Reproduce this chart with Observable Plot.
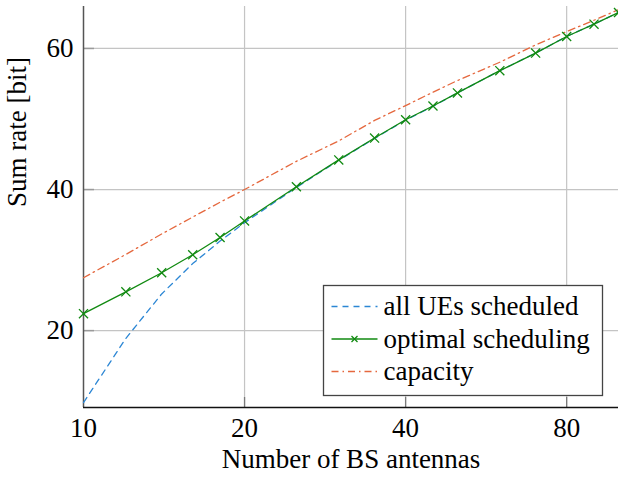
<!DOCTYPE html>
<html>
<head>
<meta charset="utf-8">
<script src="https://cdn.jsdelivr.net/npm/d3@7"></script>
<script src="https://cdn.jsdelivr.net/npm/@observablehq/plot@0.6"></script>
<style>
  html, body { margin: 0; padding: 0; background: white; }
  #chart { position: relative; width: 618px; height: 480px; overflow: hidden; }
  #chart svg, #chart svg text { font-family: "Liberation Serif", "Times New Roman", serif !important; }
</style>
</head>
<body>
<div id="chart"></div>
<script>
// ---- data ----
const antennas = [10, 12, 14, 16, 18, 20, 25, 30, 35, 40, 45, 50, 60, 70, 80, 90, 100];
const allUEs   = [9.8, 18.9, 25.2, 29.5, 32.7, 35.3, 40.3, 44.15, 47.25, 49.85, 51.8, 53.7, 56.85, 59.35, 61.7, 63.45, 65.1];
const optimal  = [22.4, 25.5, 28.2, 30.75, 33.2, 35.55, 40.4, 44.2, 47.3, 49.9, 51.85, 53.7, 56.85, 59.35, 61.7, 63.45, 65.1];
const capacity = [27.5, 30.8, 33.7, 36.1, 38.2, 40.0, 44.0, 46.9, 49.8, 51.9, 53.8, 55.45, 58.05, 60.5, 62.4, 64.0, 65.5];

const xTicks = [10, 20, 40, 80];
const yTicks = [20, 40, 60];
const xDomain = [10, 100];
const yDomain = [9.1, 65.95];

const seriesNames = ["all UEs scheduled", "optimal scheduling", "capacity"];
const colors = {blue: "#2b86d4", green: "#118a11", orange: "#e5683e"};

const rows = (ys) => antennas.map((a, i) => ({x: a, y: ys[i]}));
const dAll = rows(allUEs), dOpt = rows(optimal), dCap = rows(capacity);

const font = "Liberation Serif, Times New Roman, serif";
const fs = 27;

const plot = Plot.plot({
  width: 618,
  height: 480,
  marginLeft: 83,
  marginRight: 0,
  marginTop: 6,
  marginBottom: 73,
  style: {fontFamily: font, fontSize: fs + "px", color: "black", background: "white", overflow: "visible"},
  x: {type: "log", domain: xDomain},
  y: {domain: yDomain},
  marks: [
    Plot.gridX(xTicks.slice(1), {stroke: "#c4c4c4", strokeOpacity: 1, strokeWidth: 1.2}),
    Plot.gridY(yTicks, {stroke: "#c4c4c4", strokeOpacity: 1, strokeWidth: 1.2}),
    // inward tick marks
    Plot.axisY({ticks: yTicks, tickSize: 11, dx: 11, tickFormat: () => "", label: null, stroke: "#9a9a9a", strokeWidth: 1.5}),
    Plot.axisX({ticks: xTicks.slice(1), tickSize: 10, dy: -10, tickFormat: () => "", label: null, stroke: "#7a7a7a", strokeWidth: 1.3}),
    // tick labels
    Plot.axisY({ticks: yTicks, tickSize: 0, tickPadding: 10, label: null, fontSize: fs}),
    Plot.axisX({ticks: xTicks, tickSize: 0, tickPadding: 10, tickFormat: d => String(d), label: null, fontSize: fs}),
    // axis lines
    Plot.ruleX([xDomain[0]], {stroke: "#555", strokeWidth: 1.5}),
    Plot.ruleY([yDomain[0]], {stroke: "#111", strokeWidth: 1.5}),
    // series
    Plot.line(dCap, {x: "x", y: "y", stroke: colors.orange, strokeWidth: 1.3, strokeDasharray: "7,4,1.5,4"}),
    Plot.line(dAll, {x: "x", y: "y", stroke: colors.blue, strokeWidth: 1.3, strokeDasharray: "6,5"}),
    Plot.line(dOpt, {x: "x", y: "y", stroke: colors.green, strokeWidth: 1.3}),
    Plot.dot(dOpt, {x: "x", y: "y", symbol: "times", r: 4.2, stroke: colors.green, strokeWidth: 1.3}),
    // axis titles
    Plot.text(["Number of BS antennas"], {frameAnchor: "bottom", dy: 60, fontSize: fs, fill: "black"}),
    Plot.text(["Sum rate [bit]"], {frameAnchor: "left", rotate: -90, dx: -66, fontSize: fs, fill: "black"})
  ]
});

document.getElementById("chart").appendChild(plot);

// ---- legend (drawn inside the same SVG) ----
const svg = d3.select(plot);
const lg = svg.append("g").attr("font-family", font).attr("font-size", fs).attr("text-anchor", "start");
lg.append("rect").attr("x", 323.5).attr("y", 285.5).attr("width", 279).attr("height", 110)
  .attr("fill", "white").attr("stroke", "#444").attr("stroke-width", 1.3);
const legendRows = [
  {name: seriesNames[0], color: colors.blue, dash: "6,5", marker: false},
  {name: seriesNames[1], color: colors.green, dash: null, marker: true},
  {name: seriesNames[2], color: colors.orange, dash: "7,4,1.5,4", marker: false}
];
legendRows.forEach((r, i) => {
  const cy = 306.5 + i * 32.5;
  const ln = lg.append("line").attr("x1", 331.5).attr("x2", 377.5).attr("y1", cy).attr("y2", cy)
    .attr("stroke", r.color).attr("stroke-width", 1.3);
  if (r.dash) ln.attr("stroke-dasharray", r.dash);
  if (r.marker) {
    const m = 3;
    lg.append("path").attr("d", `M${354.5 - m},${cy - m}L${354.5 + m},${cy + m}M${354.5 - m},${cy + m}L${354.5 + m},${cy - m}`)
      .attr("stroke", r.color).attr("stroke-width", 1.3);
  }
  lg.append("text").attr("x", 383.5).attr("y", cy).attr("dy", "0.32em").attr("fill", "black")
    .attr("text-anchor", "start").text(r.name);
});
</script>
</body>
</html>
